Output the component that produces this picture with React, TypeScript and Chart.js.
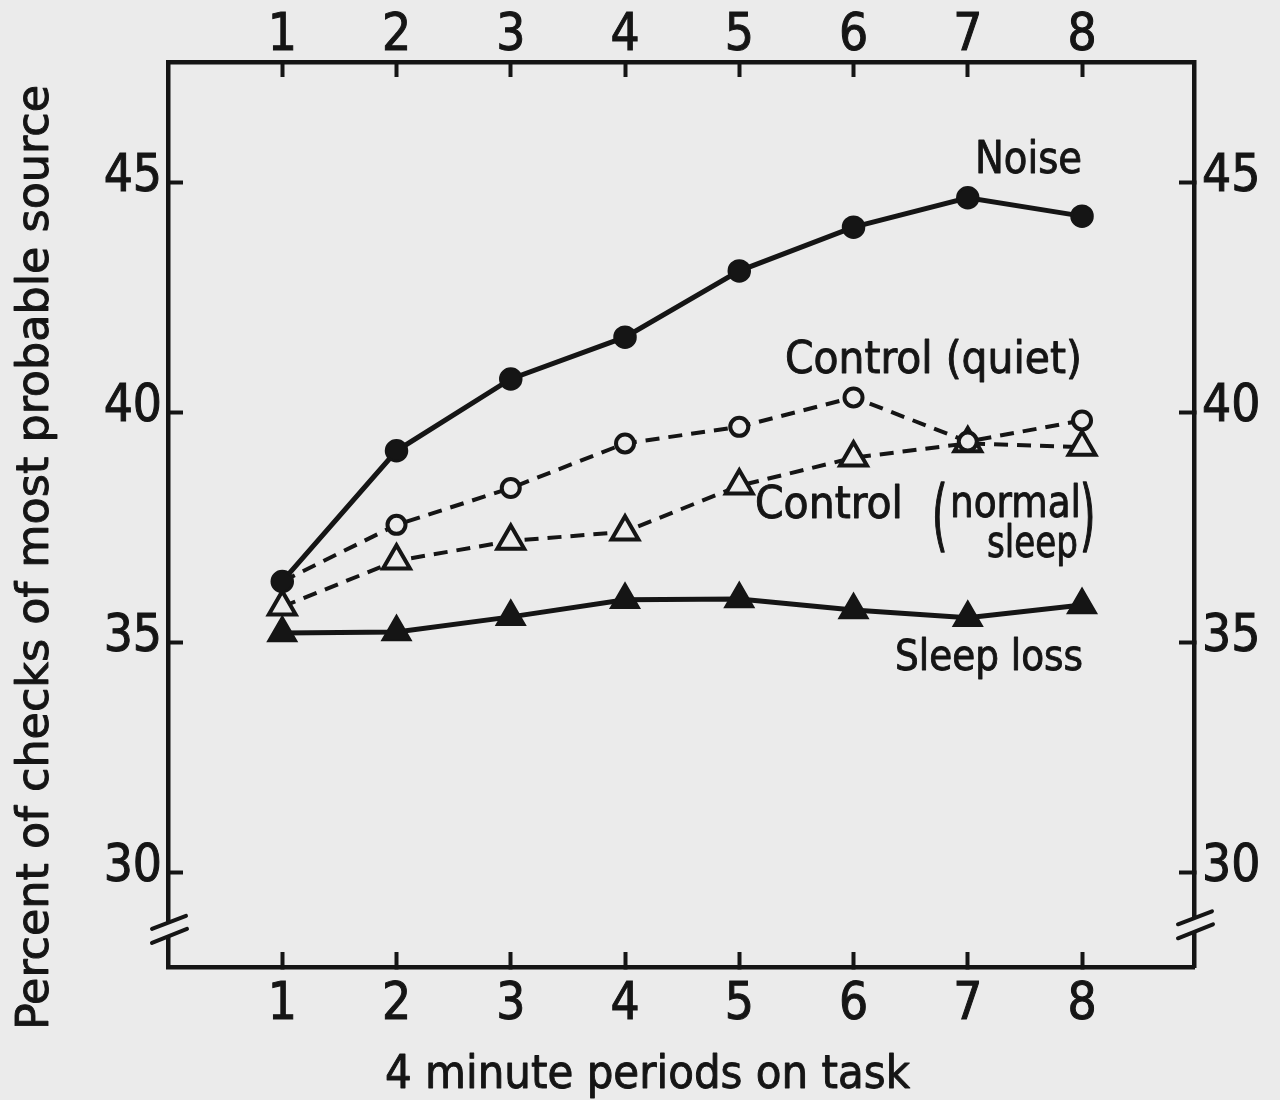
import React, { useEffect, useRef } from "react";
import { Chart, registerables } from "chart.js";

Chart.register(...registerables);

// ---- data ----
const periods = [1, 2, 3, 4, 5, 6, 7, 8];
const noise = [36.33, 39.17, 40.73, 41.64, 43.08, 44.03, 44.67, 44.27];
const controlQuiet = [36.33, 37.56, 38.36, 39.33, 39.69, 40.33, 39.37, 39.83];
const controlNormalSleep = [35.78, 36.78, 37.21, 37.41, 38.41, 39.02, 39.33, 39.25];
const sleepLoss = [35.21, 35.23, 35.56, 35.93, 35.95, 35.71, 35.54, 35.82];
const xTicks = [1, 2, 3, 4, 5, 6, 7, 8];
const yTicks = [30, 35, 40, 45];
const seriesLabels = ["Noise", "Control (quiet)", "Control (normal sleep)", "Sleep loss"];
const xTitle = "4 minute periods on task";
const yTitle = "Percent of checks of most probable source";

// ---- style ----
const FONT = "'DejaVu Sans Condensed', 'DejaVu Sans', sans-serif";
const INK = "#151515";
const BG = "#ebebeb";
const X_MIN = 0;
const X_MAX = 8.98;
const Y_MIN = 27.95;
const Y_MAX = 47.62;

const toXY = (vals: number[]) => periods.map((p, i) => ({ x: p, y: vals[i] }));

function drawText(
  ctx: CanvasRenderingContext2D,
  text: string,
  x: number,
  baseline: number,
  size: number,
  width?: number,
  rotate = 0,
  scaleY = 1
) {
  ctx.save();
  ctx.font = `${size}px ${FONT}`;
  ctx.fillStyle = INK;
  ctx.strokeStyle = INK;
  ctx.lineWidth = 0.9;
  ctx.lineJoin = "round";
  ctx.textAlign = "left";
  ctx.textBaseline = "alphabetic";
  const w = ctx.measureText(text).width;
  ctx.translate(x, baseline);
  if (rotate) ctx.rotate(rotate);
  const sx = width ? width / w : 1;
  ctx.scale(sx, scaleY);
  ctx.fillText(text, 0, 0);
  ctx.strokeText(text, 0, 0);
  ctx.restore();
}

const decorPlugin = {
  id: "decor",
  beforeDraw(chart: any) {
    const { ctx, width, height } = chart;
    ctx.save();
    ctx.fillStyle = BG;
    ctx.fillRect(0, 0, width, height);
    ctx.restore();
  },
  afterDraw(chart: any) {
    const ctx: CanvasRenderingContext2D = chart.ctx;
    const ca = chart.chartArea;
    const yS = chart.scales.y;

    // axis break marks
    const breaks = [
      { x: ca.left, y: yS.getPixelForValue(28.8) },
      { x: ca.right, y: yS.getPixelForValue(28.9) },
    ];
    for (const b of breaks) {
      ctx.save();
      ctx.fillStyle = BG;
      ctx.fillRect(b.x - 4, b.y - 6, 8, 14);
      ctx.strokeStyle = INK;
      ctx.lineWidth = 4;
      ctx.lineCap = "round";
      ctx.beginPath();
      ctx.moveTo(b.x - 16, b.y + 1);
      ctx.lineTo(b.x + 18, b.y - 12);
      ctx.moveTo(b.x - 16, b.y + 15);
      ctx.lineTo(b.x + 19, b.y + 1);
      ctx.stroke();
      ctx.restore();
    }

    // series annotations
    drawText(ctx, seriesLabels[0], 975, 173, 45, 107);
    drawText(ctx, seriesLabels[1], 785, 373, 45, 297);
    drawText(ctx, "Control", 755, 518, 45, 148);
    drawText(ctx, "normal", 950, 517, 45, 131);
    drawText(ctx, "sleep", 987, 557, 45, 91);
    drawText(ctx, "(", 932, 542, 44, undefined, 0, 1.8);
    drawText(ctx, ")", 1080, 542, 44, undefined, 0, 1.8);
    drawText(ctx, seriesLabels[3], 895, 670, 43, 188);

    // axis titles
    drawText(ctx, xTitle, 385, 1088, 46, 525);
    drawText(ctx, yTitle, 48, 1030, 45, 945, -Math.PI / 2);
  },
};

function makeAxis(
  position: "top" | "bottom" | "left" | "right",
  min: number,
  max: number,
  tickValues: number[],
  padding: number,
  size: number,
  labelOffset = 0
) {
  const horizontal = position === "top" || position === "bottom";
  return {
    type: "linear" as const,
    position,
    min,
    max,
    afterBuildTicks: (scale: any) => {
      scale.ticks = tickValues.map((v) => ({ value: v }));
    },
    afterFit: (scale: any) => {
      if (horizontal) scale.height = size;
      else scale.width = size;
    },
    grid: {
      drawOnChartArea: false,
      drawTicks: true,
      tickLength: -15,
      tickWidth: 4,
      tickColor: INK,
    },
    border: { display: true, width: 4.5, color: INK },
    ticks: {
      padding,
      labelOffset,
      color: INK,
      textStrokeColor: INK,
      textStrokeWidth: 1,
      font: { family: FONT, size: 51 },
      callback: (v: any) => String(v),
    },
  };
}

export default function App() {
  const ref = useRef<HTMLCanvasElement>(null);

  useEffect(() => {
    const chart = new Chart(ref.current as HTMLCanvasElement, {
      type: "line",
      data: {
        datasets: [
          {
            label: seriesLabels[0],
            data: toXY(noise),
            borderColor: INK,
            borderWidth: 5,
            pointStyle: "circle",
            pointRadius: 10.5,
            pointBorderWidth: 2.5,
            pointBackgroundColor: INK,
            pointBorderColor: INK,
            tension: 0,
          },
          {
            label: seriesLabels[1],
            data: toXY(controlQuiet),
            borderColor: INK,
            borderWidth: 4,
            borderDash: [14, 9],
            pointStyle: "circle",
            pointRadius: 9,
            pointBorderWidth: 4,
            pointBackgroundColor: BG,
            pointBorderColor: INK,
            tension: 0,
          },
          {
            label: seriesLabels[2],
            data: toXY(controlNormalSleep),
            borderColor: INK,
            borderWidth: 4,
            borderDash: [14, 9],
            pointStyle: "triangle",
            pointRadius: 15.5,
            pointBorderWidth: 4,
            pointBackgroundColor: BG,
            pointBorderColor: INK,
            tension: 0,
          },
          {
            label: seriesLabels[3],
            data: toXY(sleepLoss),
            borderColor: INK,
            borderWidth: 5,
            pointStyle: "triangle",
            pointRadius: 16.5,
            pointBorderWidth: 2,
            pointBackgroundColor: INK,
            pointBorderColor: INK,
            tension: 0,
          },
        ],
      },
      options: {
        animation: false,
        responsive: false,
        layout: { padding: 0 },
        plugins: {
          legend: { display: false },
          tooltip: { enabled: false },
        },
        scales: {
          x: makeAxis("bottom", X_MIN, X_MAX, xTicks, 23.4, 133),
          xTop: makeAxis("top", X_MIN, X_MAX, xTicks, 9.4, 62),
          y: makeAxis("left", Y_MIN, Y_MAX, yTicks, 21, 168, -5),
          yRight: makeAxis("right", Y_MIN, Y_MAX, yTicks, 23, 86, -5),
        } as any,
      },
      plugins: [decorPlugin],
    } as any);
    return () => chart.destroy();
  }, []);

  return (
    <div
      style={{
        position: "absolute",
        left: 0,
        top: 0,
        width: 1280,
        height: 1100,
        background: BG,
      }}
    >
      <canvas ref={ref} width={1280} height={1100} style={{ display: "block" }} />
    </div>
  );
}
